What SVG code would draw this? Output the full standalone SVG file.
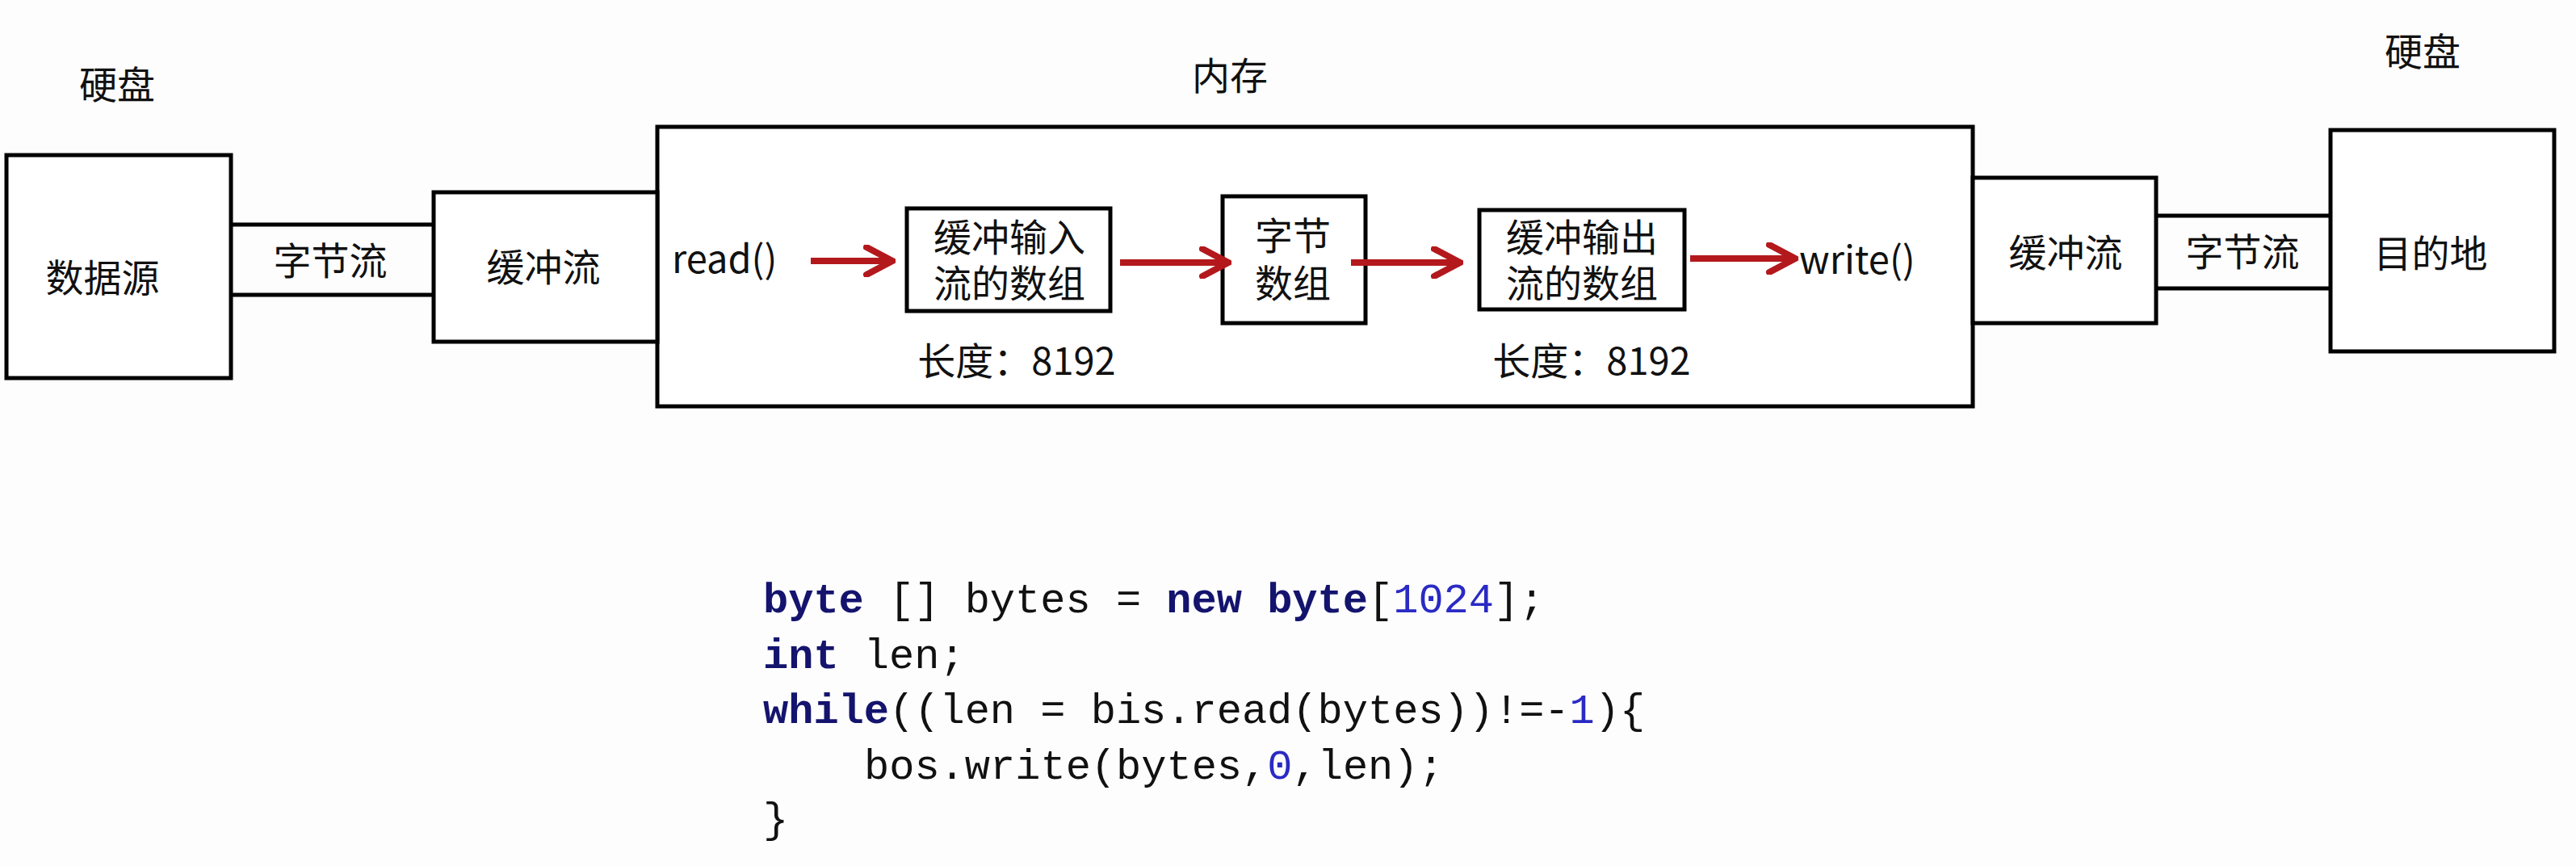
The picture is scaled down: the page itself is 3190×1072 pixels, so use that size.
<svg xmlns="http://www.w3.org/2000/svg" width="3190" height="1072" viewBox="0 0 3190 1072">
<defs>
<style>
.box{fill:#ffffff;stroke:#000;stroke-width:5}
.ln{stroke:#000;stroke-width:5;fill:none}
.t{font-family:"Noto Sans CJK SC","Microsoft YaHei","Liberation Sans",sans-serif;font-size:47px;fill:#111}
.t2{font-family:"Liberation Sans","Noto Sans CJK SC",sans-serif;font-size:47px;fill:#111}
.tc{text-anchor:middle}
.code{font-family:"Liberation Mono","DejaVu Sans Mono",monospace;font-size:52px;fill:#111}
.kw{fill:#14146e;font-weight:bold}
.num{fill:#2a2ac4}
.arr{stroke:#b3191c;stroke-width:8;fill:none;marker-end:url(#head)}
</style>
<marker id="head" viewBox="0 0 40 40" refX="36" refY="20" markerWidth="40" markerHeight="40" markerUnits="userSpaceOnUse" orient="auto">
<path d="M4,3 L36,20 L4,37" fill="none" stroke="#b3191c" stroke-width="8" stroke-linecap="round" stroke-linejoin="miter"/>
</marker>
</defs>
<rect width="3190" height="1072" fill="#fdfdfd"/>

<g id="label-disk-left"><text class="t tc" x="145" y="122">硬盘</text></g>
<g id="label-memory"><text class="t tc" x="1523" y="111">内存</text></g>
<g id="label-disk-right"><text class="t tc" x="3000" y="81">硬盘</text></g>

<g id="memory"><rect class="box" x="814" y="157" width="1629" height="346"/></g>

<g id="source"><rect class="box" x="8" y="192" width="278" height="276"/><text class="t tc" x="127" y="361">数据源</text></g>
<g id="bytestream-left"><line class="ln" x1="286" y1="278" x2="537" y2="278"/><line class="ln" x1="286" y1="365" x2="537" y2="365"/><text class="t tc" x="409" y="340">字节流</text></g>
<g id="buffered-left"><rect class="box" x="537" y="238" width="277" height="185"/><text class="t tc" x="673" y="348">缓冲流</text></g>

<g id="read-label"><text class="t" x="832" y="338">read()</text></g>
<g id="in-array"><rect class="box" x="1123" y="258" width="252" height="127"/><text class="t2 tc" x="1250" y="311">缓冲输入</text><text class="t2 tc" x="1250" y="368">流的数组</text></g>
<g id="len-in"><text class="t tc" x="1259" y="464">长度：8192</text></g>
<g id="byte-array"><rect class="box" x="1514" y="243" width="177" height="157"/><text class="t2 tc" x="1601" y="309">字节</text><text class="t2 tc" x="1601" y="368">数组</text></g>
<g id="out-array"><rect class="box" x="1832" y="260" width="254" height="123"/><text class="t2 tc" x="1959" y="311">缓冲输出</text><text class="t2 tc" x="1959" y="368">流的数组</text></g>
<g id="len-out"><text class="t tc" x="1971" y="464">长度：8192</text></g>
<g id="write-label"><text class="t" x="2228" y="339">write()</text></g>

<g id="buffered-right"><rect class="box" x="2443" y="220" width="227" height="180"/><text class="t tc" x="2558" y="330">缓冲流</text></g>
<g id="bytestream-right"><line class="ln" x1="2670" y1="267" x2="2886" y2="267"/><line class="ln" x1="2670" y1="357" x2="2886" y2="357"/><text class="t tc" x="2777" y="329">字节流</text></g>
<g id="destination"><rect class="box" x="2886" y="161" width="277" height="274"/><text class="t tc" x="3010" y="331">目的地</text></g>

<g id="connectors">
<line class="arr" x1="1004" y1="323" x2="1105" y2="323"/>
<line class="arr" x1="1387" y1="325" x2="1521" y2="325"/>
<line class="arr" x1="1673" y1="325" x2="1808" y2="325"/>
<line class="arr" x1="2093" y1="320" x2="2223" y2="320"/>
</g>

<g id="code">
<text class="code" x="945" y="758"><tspan class="kw">byte</tspan> [] bytes = <tspan class="kw">new</tspan> <tspan class="kw">byte</tspan>[<tspan class="num">1024</tspan>];</text>
<text class="code" x="945" y="827"><tspan class="kw">int</tspan> len;</text>
<text class="code" x="945" y="895"><tspan class="kw">while</tspan>((len = bis.read(bytes))!=-<tspan class="num">1</tspan>){</text>
<text class="code" x="1070" y="964">bos.write(bytes,<tspan class="num">0</tspan>,len);</text>
<text class="code" x="945" y="1030">}</text>
</g>
</svg>
